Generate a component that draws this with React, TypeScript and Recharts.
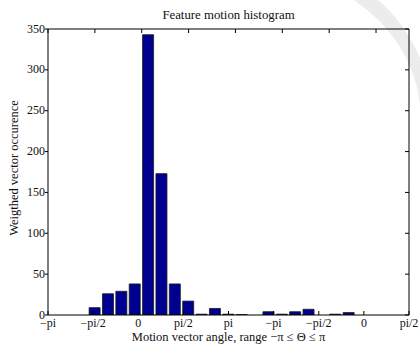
import React from 'react';
import { ComposedChart, Bar, XAxis, YAxis, Label } from 'recharts';

const binCenters = [0.5, 1.5, 2.5, 3.5, 4.5, 5.5, 6.5, 7.5, 8.5, 9.5, 10.5, 11.5, 12.5, 13.5, 14.5, 15.5, 16.5, 17.5, 18.5, 19.5, 20.5, 21.5, 22.5, 23.5, 24.5, 25.5, 26.5];
const counts = [0, 0, 0, 9, 26, 29, 38, 343, 173, 38, 17, 1, 8, 1, 0.5, 0, 4, 1, 4, 7, 0, 1, 3, 0, 0, 0, 0];
const xTickValues = [0, 3.375, 6.75, 10.125, 13.5, 16.875, 20.25, 23.625, 27];
const xTickLabels = ['\u2212pi', '\u2212pi/2', '0', 'pi/2', 'pi', '\u2212pi', '\u2212pi/2', '0', 'pi/2'];
const yTickValues = [0, 50, 100, 150, 200, 250, 300, 350];

const data = binCenters.map((c, i) => ({ c, v: counts[i] }));

const FONT = '"Liberation Serif", "DejaVu Serif", serif';
const TXT = '#111';

const BottomTick = (props: any) => {
  const { x, y, index } = props;
  return (
    <g>
      <line x1={x} x2={x} y1={y} y2={y - 4} stroke="#000" strokeWidth={1} />
      <text x={x} y={y + 12} textAnchor="middle" fontSize={12} fontFamily={FONT} fill={TXT}>
        {xTickLabels[index] ?? ''}
      </text>
    </g>
  );
};

const TopTick = (props: any) => {
  const { x, y } = props;
  return <line x1={x} x2={x} y1={y} y2={y + 4} stroke="#000" strokeWidth={1} />;
};

const LeftTick = (props: any) => {
  const { x, y, payload } = props;
  return (
    <g>
      <line x1={x} x2={x - 3} y1={y} y2={y} stroke="#000" strokeWidth={1} />
      <text x={x - 3} y={y} dy="0.3em" textAnchor="end" fontSize={12} fontFamily={FONT} fill={TXT}>
        {payload.value}
      </text>
    </g>
  );
};

const RightTick = (props: any) => {
  const { x, y } = props;
  return <line x1={x} x2={x - 4} y1={y} y2={y} stroke="#000" strokeWidth={1} />;
};

export default function App() {
  return (
    <div style={{ position: 'absolute', left: 0, top: 0, width: 420, height: 345, background: '#fff' }}>
      <svg width={420} height={345} style={{ position: 'absolute', left: 0, top: 0 }}>
        <path d="M354,0 L378,0 Q404,22 420,58 L420,104 Q412,40 354,0 Z" fill="#ececec" />
      </svg>
      <div style={{ position: 'absolute', left: 0, top: 0 }}>
        <ComposedChart width={420} height={345} data={data} margin={{ top: 0, right: 0, bottom: 0, left: 0 }}>
          <XAxis
            xAxisId="b"
            dataKey="c"
            type="number"
            domain={[0, 27]}
            ticks={xTickValues}
            interval={0}
            allowDataOverflow
            height={30}
            tickSize={0}
            tickMargin={0}
            tickLine={false}
            axisLine={{ stroke: '#000', strokeWidth: 1 }}
            tick={<BottomTick />}
          >
            <Label
              value={'Motion vector angle, range \u2212\u03c0 \u2264 \u0398 \u2264 \u03c0'}
              position="insideBottom"
              offset={4}
              fontSize={12.5}
              fontFamily={FONT}
              fill={TXT}
            />
          </XAxis>
          <XAxis
            xAxisId="t"
            orientation="top"
            type="number"
            domain={[0, 27]}
            ticks={xTickValues}
            interval={0}
            allowDataOverflow
            height={29}
            tickSize={0}
            tickMargin={0}
            tickLine={false}
            axisLine={{ stroke: '#000', strokeWidth: 1 }}
            tick={<TopTick />}
          >
            <Label
              value="Feature motion histogram"
              position="insideTop"
              offset={9.5}
              fontSize={12.8}
              fontFamily={FONT}
              fill={TXT}
            />
          </XAxis>
          <YAxis
            yAxisId="l"
            type="number"
            domain={[0, 350]}
            ticks={yTickValues}
            interval={0}
            allowDataOverflow
            width={48}
            tickSize={0}
            tickMargin={0}
            tickLine={false}
            axisLine={{ stroke: '#000', strokeWidth: 1 }}
            tick={<LeftTick />}
          >
            <Label
              content={() => (
                <text
                  x={14}
                  y={168}
                  transform="rotate(-90 14 168)"
                  textAnchor="middle"
                  dy="0.35em"
                  fontSize={12.5}
                  fontFamily={FONT}
                  fill={TXT}
                >
                  Weigthed vector occurence
                </text>
              )}
            />
          </YAxis>
          <YAxis
            yAxisId="r"
            orientation="right"
            type="number"
            domain={[0, 350]}
            ticks={yTickValues}
            interval={0}
            allowDataOverflow
            width={11}
            tickSize={0}
            tickMargin={0}
            tickLine={false}
            axisLine={{ stroke: '#000', strokeWidth: 1 }}
            tick={<RightTick />}
          />
          <Bar
            xAxisId="b"
            yAxisId="l"
            dataKey="v"
            barSize={11}
            fill="#000090"
            stroke="#1a1a1a"
            strokeWidth={0.8}
            isAnimationActive={false}
          />
        </ComposedChart>
      </div>
    </div>
  );
}
